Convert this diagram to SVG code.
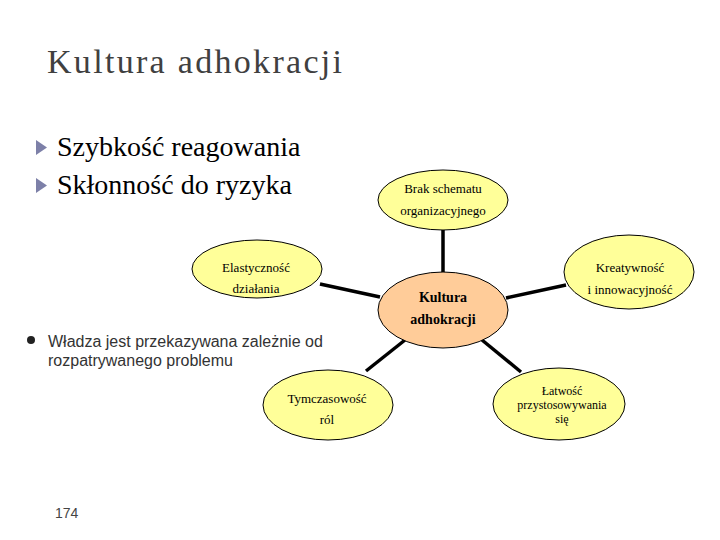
<svg xmlns="http://www.w3.org/2000/svg" width="720" height="540" viewBox="0 0 720 540">
<style>
.node{fill:#FFFF99;stroke:#000;stroke-width:1}
.center{fill:#FFCC99;stroke:#000;stroke-width:1}
.lbl{font-family:"Liberation Serif","Times New Roman",serif;font-size:13px;fill:#000;text-anchor:middle}
.sm{font-size:12px}
.lblb{font-family:"Liberation Serif","Times New Roman",serif;font-size:14px;font-weight:bold;fill:#000;text-anchor:middle}
.conn line{stroke:#000;stroke-width:3.5}
.big{font-family:"Liberation Serif","Times New Roman",serif;font-size:28px;fill:#000}
.tri{fill:#7D80A8}
</style>
<rect width="720" height="540" fill="#fff"/>
<text x="47" y="73" font-family="Liberation Serif, Times New Roman, serif" font-size="34" fill="#404040" textLength="295" lengthAdjust="spacing">Kultura adhokracji</text>
<polygon class="tri" points="36,140 36,155 47,147.5"/>
<text class="big" x="57" y="156">Szybkość reagowania</text>
<polygon class="tri" points="36,178 36,193 47,185.5"/>
<text class="big" x="57" y="194">Skłonność do ryzyka</text>
<circle cx="31" cy="340" r="4" fill="#222"/>
<text x="48" y="347" font-family="Liberation Sans, Arial, sans-serif" font-size="16" fill="#333">Władza jest przekazywana zależnie od</text>
<text x="48" y="366" font-family="Liberation Sans, Arial, sans-serif" font-size="16" fill="#333">rozpatrywanego problemu</text>
<text x="55" y="518" font-family="Liberation Sans, Arial, sans-serif" font-size="14" fill="#444">174</text>
<g class="conn" id="connectors">
<line x1="443" y1="230" x2="443" y2="273"/>
<line x1="566" y1="285" x2="506" y2="298"/>
<line x1="320" y1="284" x2="380" y2="297"/>
<line x1="405" y1="340" x2="366" y2="371"/>
<line x1="482" y1="340" x2="521" y2="372"/>
</g>
<g id="n-top"><ellipse class="node" cx="443" cy="200" rx="65" ry="30"/><text class="lbl" x="443" y="193">Brak schematu</text><text class="lbl" x="443" y="215">organizacyjnego</text></g>
<g id="n-right"><ellipse class="node" cx="629" cy="272" rx="65" ry="37"/><text class="lbl" x="630" y="272">Kreatywność</text><text class="lbl" x="630" y="294">i innowacyjność</text></g>
<g id="n-center"><ellipse class="center" cx="443" cy="310" rx="65" ry="38"/><text class="lblb" x="443" y="302">Kultura</text><text class="lblb" x="443" y="324">adhokracji</text></g>
<g id="n-left"><ellipse class="node" cx="257" cy="269" rx="65" ry="29"/><text class="lbl" x="256" y="272">Elastyczność</text><text class="lbl" x="256" y="293">działania</text></g>
<g id="n-botleft"><ellipse class="node" cx="328" cy="405" rx="65" ry="35"/><text class="lbl" x="327" y="403">Tymczasowość</text><text class="lbl" x="327" y="424">ról</text></g>
<g id="n-botright"><ellipse class="node" cx="559" cy="404" rx="66" ry="36"/><text class="lbl sm" x="562" y="395">Łatwość</text><text class="lbl sm" x="562" y="409">przystosowywania</text><text class="lbl sm" x="562" y="423">się</text></g>
</svg>
